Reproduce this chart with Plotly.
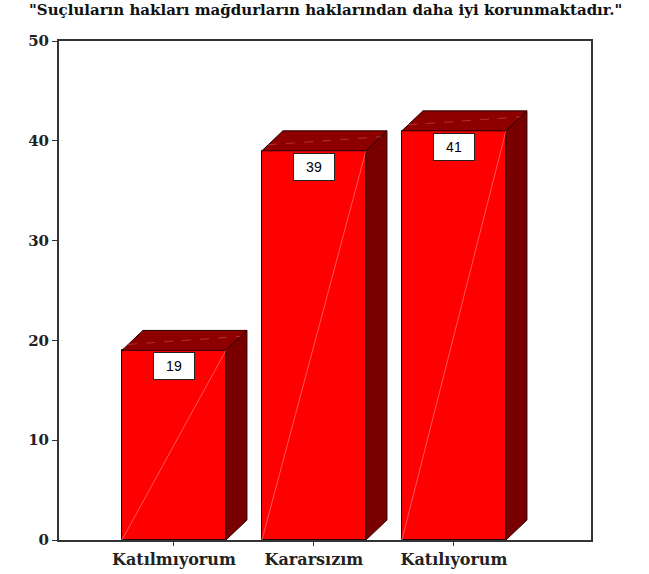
import plotly.graph_objects as go

# Survey responses (percent) for the statement in the title
categories = ["Katılmıyorum", "Kararsızım", "Katılıyorum"]
values = [19, 39, 41]
value_labels = ["19", "39", "41"]
y_ticks = [0, 10, 20, 30, 40, 50]
title_text = '"Suçluların hakları mağdurların haklarından daha iyi korunmaktadır."'

# Styling for the pseudo-3D column look
FRONT = "#ff0000"
TOP = "#8e0000"
SIDE = "#7a0000"
EDGE = "#2a0000"
BAR_W = 0.743
DX = 0.15   # depth offset along x (category units)
DY = 2.0    # depth offset along y (value units)

xs = list(range(len(categories)))

fig = go.Figure()

# Front faces of the columns
fig.add_trace(go.Bar(
    x=xs, y=values, width=BAR_W,
    marker=dict(color=FRONT, line=dict(color=EDGE, width=1)),
    hoverinfo="skip", showlegend=False,
))

for x, v in zip(xs, values):
    left, right = x - BAR_W / 2, x + BAR_W / 2
    # top face
    fig.add_trace(go.Scatter(
        x=[left, left + DX, right + DX, right, left],
        y=[v, v + DY, v + DY, v, v],
        mode="lines", fill="toself", fillcolor=TOP,
        line=dict(color=EDGE, width=1), hoverinfo="skip", showlegend=False,
    ))
    # right side face
    fig.add_trace(go.Scatter(
        x=[right, right, right + DX, right + DX, right],
        y=[0, v, v + DY, DY, 0],
        mode="lines", fill="toself", fillcolor=SIDE,
        line=dict(color=EDGE, width=1), hoverinfo="skip", showlegend=False,
    ))
    # faint highlight streak across the front face
    fig.add_trace(go.Scatter(
        x=[left, right], y=[0, v],
        mode="lines", line=dict(color="rgba(255,190,190,0.45)", width=1),
        hoverinfo="skip", showlegend=False,
    ))
    # faint streak on the top face
    fig.add_trace(go.Scatter(
        x=[left + DX * 0.3, right + DX * 0.7], y=[v + DY * 0.3, v + DY * 0.7],
        mode="lines", line=dict(color="rgba(220,110,110,0.45)", width=1, dash="dash"),
        hoverinfo="skip", showlegend=False,
    ))

# Value labels in boxed tags below the top edge
for x, v, lab in zip(xs, values, value_labels):
    fig.add_annotation(
        x=x, y=v, xref="x", yref="y", text=lab, showarrow=False,
        yanchor="top", yshift=-2, width=38, height=24, borderpad=1,
        bgcolor="white", bordercolor="#222222", borderwidth=1,
        font=dict(family="Liberation Sans, Arial, sans-serif", size=14, color="black"),
    )

fig.add_annotation(
    text=f"<b>{title_text}</b>", xref="paper", yref="paper", x=0.5, y=1.0,
    yanchor="bottom", yshift=20, showarrow=False,
    font=dict(family="DejaVu Serif", size=15, color="#111111"),
)

fig.update_layout(
    width=649, height=574,
    margin=dict(l=59, r=58, t=41, b=34, autoexpand=False),
    paper_bgcolor="white", plot_bgcolor="white",
    bargap=0,
    font=dict(family="DejaVu Serif", color="black"),
    xaxis=dict(
        range=[-0.821, 2.979], tickmode="array", tickvals=xs,
        ticktext=[f"<b>{c}</b>" for c in categories],
        ticks="outside", ticklen=4, tickcolor="#333333", tickwidth=1,
        showline=True, linecolor="#333333", linewidth=2, mirror=True,
        showgrid=False, zeroline=False, automargin=False,
        tickfont=dict(family="DejaVu Serif", size=16, color="#222222"),
    ),
    yaxis=dict(
        range=[0, 50], tickmode="array", tickvals=y_ticks,
        ticktext=[f"<b>{t}</b>" for t in y_ticks],
        ticks="outside", ticklen=5, tickcolor="#333333", tickwidth=1,
        showline=True, linecolor="#333333", linewidth=2, mirror=True,
        showgrid=False, zeroline=False, automargin=False,
        tickfont=dict(family="DejaVu Serif", size=15, color="#222222"),
    ),
)

fig.write_html("out.html")
